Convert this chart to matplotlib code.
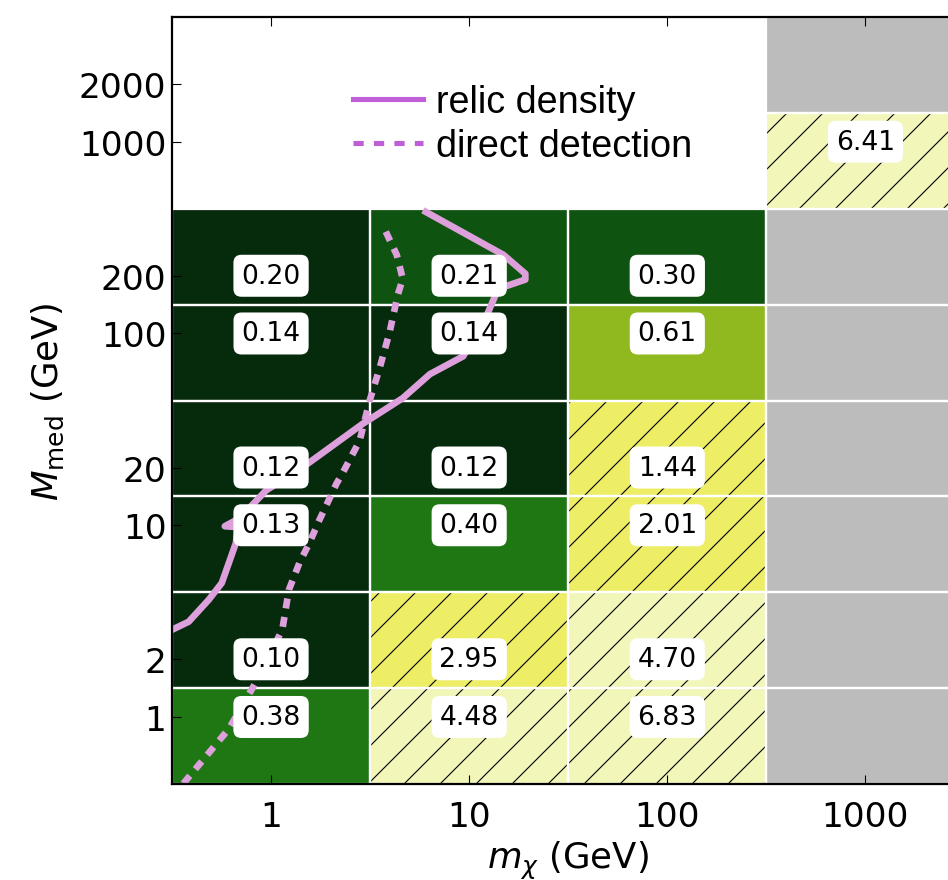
import numpy as np
import matplotlib
matplotlib.use("Agg")
import matplotlib.pyplot as plt
from matplotlib.patches import Rectangle
from matplotlib.lines import Line2D
from matplotlib.colors import ListedColormap, BoundaryNorm

DPI = 108
S = 160 / DPI   # sizes below were tuned for 160 dpi

plt.rcParams['hatch.linewidth'] = 0.5 * S
plt.rcParams['font.family'] = ['DejaVu Sans']

# grid points
mchi = [1, 10, 100, 1000]
mmed = [1, 2, 10, 20, 100, 200, 1000, 2000]
mmed_ext = [0.2] + mmed + [10000]   # neighbours used for outer cell edges

# values per cell, rows follow mmed, columns follow mchi
nan = np.nan
omega = [
    [0.38, 4.48, 6.83, nan],
    [0.10, 2.95, 4.70, nan],
    [0.13, 0.40, 2.01, nan],
    [0.12, 0.12, 1.44, nan],
    [0.14, 0.14, 0.61, nan],
    [0.20, 0.21, 0.30, nan],
    [nan, nan, nan, 6.41],
    [nan, nan, nan, nan],
]
excluded = [
    [0, 0, 0, 1],
    [0, 0, 0, 1],
    [0, 0, 0, 1],
    [0, 0, 0, 1],
    [0, 0, 0, 1],
    [0, 0, 0, 1],
    [0, 0, 0, 0],
    [0, 0, 0, 1],
]

# curves
relic_x = [0.303, 0.384, 0.485, 0.564, 0.612, 0.664, 0.680, 0.584, 0.696, 0.944,
           1.44, 2.90, 4.62, 6.34, 9.32, 12.3, 14.0, 19.2, 19.2, 14.9, 5.84]
relic_y = [2.79, 3.14, 4.09, 5.00, 6.35, 8.07, 9.77, 9.88, 10.9, 15.2,
           20.0, 33.8, 46.0, 61.4, 76.0, 125, 171, 191, 205, 257, 439]
dd_x = [0.361, 0.612, 0.839, 1.14, 1.23, 1.39, 1.56, 1.75, 2.14, 2.29,
        2.80, 3.14, 3.53, 3.97, 4.36, 4.62, 4.31, 3.66]
dd_y = [0.45, 0.867, 1.52, 2.86, 4.60, 6.36, 8.07, 10.6, 16.5, 18.6,
        27.6, 44.4, 65.9, 102, 159, 193, 257, 367]

bounds = [0, 0.205, 0.35, 0.5, 1, 3, 10]
cmap = ListedColormap(['#062a0c', '#0e5410', '#1f7714', '#8fb91e', '#eded66', '#f2f6b8'])
norm = BoundaryNorm(bounds, cmap.N)

xedges = [10 ** (np.log10(mchi[0]) - 0.5)] + [np.sqrt(a * b) for a, b in zip(mchi[:-1], mchi[1:])] + [10 ** (np.log10(mchi[-1]) + 0.5)]
yedges = [np.sqrt(a * b) for a, b in zip(mmed_ext[:-1], mmed_ext[1:])]

fig = plt.figure(figsize=(949 / DPI, 881 / DPI), dpi=DPI)
ax = fig.add_axes([172 / 949, 96 / 881, (964.5 - 172) / 949, 767 / 881])

for i, m in enumerate(mmed):
    for j, c in enumerate(mchi):
        x0, x1 = xedges[j], xedges[j + 1]
        y0, y1 = yedges[i], yedges[i + 1]
        v = omega[i][j]
        if excluded[i][j]:
            fc = '#bcbcbc'
        elif np.isnan(v):
            continue
        else:
            fc = cmap(norm(v))
        hatch = '/' if (not np.isnan(v) and v > 1) else None
        ax.add_patch(Rectangle((x0, y0), x1 - x0, y1 - y0, facecolor=fc,
                               edgecolor='black', lw=0, hatch=hatch, zorder=1))
        ax.add_patch(Rectangle((x0, y0), x1 - x0, y1 - y0, fill=False,
                               edgecolor='white', lw=1.0 * S, zorder=1.5))
        if not np.isnan(v):
            ax.text(c, m, '%.2f' % v, ha='center', va='center', fontsize=12 * S, zorder=4,
                    bbox=dict(boxstyle='round,pad=0.3', fc='white', ec='none'))

ax.plot(relic_x, relic_y, color='#dda0dd', lw=3 * S, solid_capstyle='butt', zorder=3)
ax.plot(dd_x, dd_y, color='#dda0dd', lw=3 * S, dashes=(1.5, 1.3), dash_capstyle='butt', zorder=3)

ax.set_xscale('log')
ax.set_yscale('log')
ax.set_xlim(xedges[0], xedges[-1])
ax.set_ylim(yedges[0], yedges[-1])
ax.set_xticks(mchi)
ax.set_xticklabels([str(c) for c in mchi])
ax.set_yticks(mmed)
ax.set_yticklabels([str(m) for m in mmed])
ax.minorticks_off()
ax.tick_params(direction='in', top=True, right=True, length=4 * S, width=0.5 * S,
               labelsize=15.5 * S)
ax.tick_params(axis='x', pad=7 * S)
ax.tick_params(axis='y', pad=2.5 * S)
for s in ax.spines.values():
    s.set_linewidth(1.0 * S)
    s.set_zorder(5)

ax.set_xlabel(r'$m_\chi$ (GeV)', fontsize=16 * S, labelpad=3 * S)
ax.set_ylabel(r'$M_{\rm med}$ (GeV)', fontsize=16 * S, labelpad=6 * S)

handles = [Line2D([], [], color='#bf5fd7', lw=2.3 * S),
           Line2D([], [], color='#bf5fd7', lw=2.3 * S, dashes=(2, 2))]
ax.legend(handles, ['relic density', 'direct detection'], loc='upper left',
          bbox_to_anchor=(0.228, 0.913), frameon=False, borderpad=0, borderaxespad=0,
          handlelength=1.85, handletextpad=0.35, labelspacing=0.23,
          prop={'family': 'Liberation Sans', 'size': 17 * S})

fig.savefig('out.png', dpi=DPI)
